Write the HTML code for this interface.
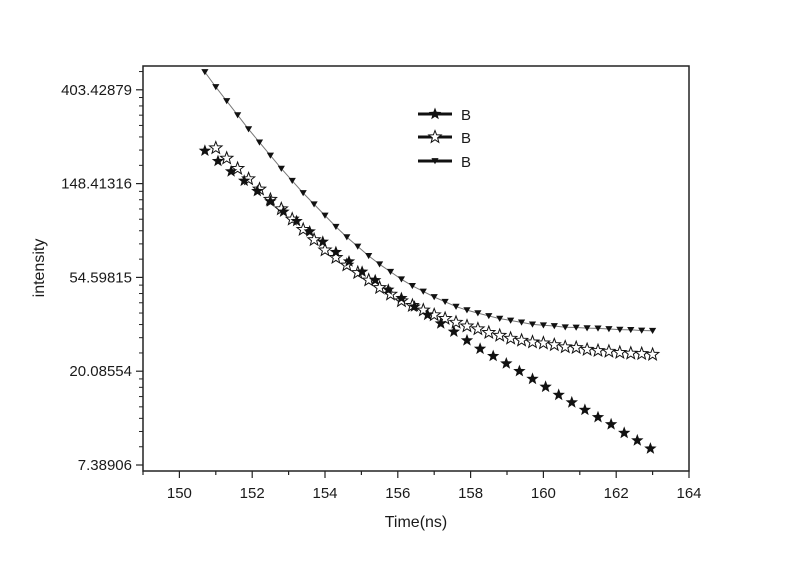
<!DOCTYPE html>
<html><head><meta charset="utf-8"><style>
body{margin:0;background:#fff}
svg text{font-family:"Liberation Sans",Arial,sans-serif;fill:#1a1a1a}
</style></head><body>
<svg id="chart" width="800" height="564" viewBox="0 0 800 564" xmlns="http://www.w3.org/2000/svg"></svg>
<script>
const xTicks=[150,152,154,156,158,160,162,164];
const yTickExp=[2,3,4,5,6];
const yTickLabels=["7.38906","20.08554","54.59815","148.41316","403.42879"];
const filledX=[150.7,151.06,151.42,151.78,152.14,152.5,152.86,153.22,153.58,153.94,154.3,154.66,155.02,155.38,155.74,156.1,156.46,156.82,157.18,157.54,157.9,158.26,158.62,158.98,159.34,159.7,160.06,160.42,160.78,161.14,161.5,161.86,162.22,162.58,162.94];
const filledY=[210.6,188.7,169.0,152.9,137.0,122.7,110.0,99.5,89.1,79.8,71.5,64.7,58.0,53.0,47.9,43.8,40.0,36.6,33.4,30.6,27.9,25.5,23.6,21.8,20.1,18.5,17.0,15.6,14.4,13.3,12.3,11.4,10.4,9.6,8.8];
const openX=[151,151.3,151.6,151.9,152.2,152.5,152.8,153.1,153.4,153.7,154,154.3,154.6,154.9,155.2,155.5,155.8,156.1,156.4,156.7,157,157.3,157.6,157.9,158.2,158.5,158.8,159.1,159.4,159.7,160,160.3,160.6,160.9,161.2,161.5,161.8,162.1,162.4,162.7,163];
const openY=[217.0,194.4,174.2,156.0,139.8,125.2,113.3,101.5,90.9,81.5,73.0,67.4,62.2,57.4,53.0,48.9,45.6,42.5,40.4,38.5,36.6,35.2,33.8,32.5,31.5,30.3,29.4,28.5,27.9,27.4,27.1,26.6,26.0,25.8,25.3,25.0,24.8,24.5,24.3,24.2,24.0];
const triX=[150.7,151,151.3,151.6,151.9,152.2,152.5,152.8,153.1,153.4,153.7,154,154.3,154.6,154.9,155.2,155.5,155.8,156.1,156.4,156.7,157,157.3,157.6,157.9,158.2,158.5,158.8,159.1,159.4,159.7,160,160.3,160.6,160.9,161.2,161.5,161.8,162.1,162.4,162.7,163];
const triY=[487.8,415.7,357.8,308.0,265.1,230.4,200.3,174.2,152.9,134.3,119.1,105.6,93.7,83.9,75.9,68.7,62.8,58.0,53.5,49.9,47.0,44.3,42.1,40.0,38.5,37.3,36.2,35.2,34.5,33.8,33.1,32.8,32.5,32.1,32.0,31.8,31.7,31.5,31.3,31.2,31.0,30.9];

const L=143,R=689,T=66,B=471;
const X0=149,X1=164;
const sx=v=>L+(v-X0)/(X1-X0)*(R-L);
const syLn=l=>465-(l-2)*93.8;
const sy=v=>syLn(Math.log(v));
const svg=document.getElementById('chart');
const NS='http://www.w3.org/2000/svg';
function mk(tag,attrs,parent){const e=document.createElementNS(NS,tag);for(const k in attrs)e.setAttribute(k,attrs[k]);(parent||svg).appendChild(e);return e;}
function starPts(cx,cy,r){let p=[];for(let i=0;i<10;i++){const a=-Math.PI/2+i*Math.PI/5;const rr=i%2?r*0.42:r;p.push((cx+rr*Math.cos(a)).toFixed(1)+','+(cy+rr*Math.sin(a)).toFixed(1));}return p.join(' ');}
function triPts(cx,cy,s){return `${cx-s},${cy-s*0.8} ${cx+s},${cy-s*0.8} ${cx},${cy+s*0.9}`;}

let f=mk('rect',{x:L,y:T,width:R-L,height:B-T,fill:'none',stroke:'#222','stroke-width':1.5});


const xg=mk('g',{});


for(let v=X0;v<=X1;v++){const x=sx(v);const major=xTicks.includes(v);mk('line',{x1:x,y1:B,x2:x,y2:B+(major?7:4),stroke:'#222','stroke-width':1.2},xg);}
xTicks.forEach(v=>{const t=mk('text',{x:sx(v),y:B+27,'text-anchor':'middle','font-size':15},xg);t.textContent=v;

});
const yg=mk('g',{});


yTickExp.forEach((e,i)=>{const y=syLn(e);mk('line',{x1:L-7,y1:y,x2:L,y2:y,stroke:'#222','stroke-width':1.2},yg);
 const t=mk('text',{x:L-11,y:y+5,'text-anchor':'end','font-size':15},yg);t.textContent=yTickLabels[i];
 
 
 const a=Math.exp(e),b=Math.exp(e+1);
 for(let k=1;k<8;k++){const yy=sy(a+k*(b-a)/8);if(yy>T)mk('line',{x1:L-4,y1:yy,x2:L,y2:yy,stroke:'#222','stroke-width':1},yg);}
});
const xt=mk('text',{x:416,y:527,'text-anchor':'middle','font-size':16});xt.textContent='Time(ns)';


const yt=mk('text',{x:44,y:268,'text-anchor':'middle','font-size':16,transform:'rotate(-90 44 268)'});yt.textContent='intensity';



const tg=mk('g',{});


mk('polyline',{points:triX.map((x,i)=>sx(x)+','+sy(triY[i])).join(' '),fill:'none',stroke:'#777','stroke-width':1},tg);
triX.forEach((x,i)=>{const p=mk('polygon',{points:triPts(sx(x),sy(triY[i]),3.6),fill:'#111'},tg);

});
const og=mk('g',{});


openX.forEach((x,i)=>{const p=mk('polygon',{points:starPts(sx(x),sy(openY[i]),6.5),fill:'#fff',stroke:'#111','stroke-width':1},og);

});
const fg=mk('g',{});


filledX.forEach((x,i)=>{const p=mk('polygon',{points:starPts(sx(x),sy(filledY[i]),6.5),fill:'#111'},fg);

});

const lg=mk('g',{});


[[114,'filled'],[137,'open'],[161,'tri']].forEach(([y,k])=>{
 const e=mk('g',{},lg);
 
 
 mk('line',{x1:418,y1:y,x2:452,y2:y,stroke:'#111','stroke-width':3},e);
 if(k=='filled')mk('polygon',{points:starPts(435,y,6.5),fill:'#111'},e);
 if(k=='open')mk('polygon',{points:starPts(435,y,6.5),fill:'#fff',stroke:'#111','stroke-width':1},e);
 if(k=='tri')mk('polygon',{points:triPts(435,y,3.6),fill:'#111'},e);
 const t=mk('text',{x:461,y:y+6,'font-size':15},e);t.textContent='B';
});
</script>
</body></html>
